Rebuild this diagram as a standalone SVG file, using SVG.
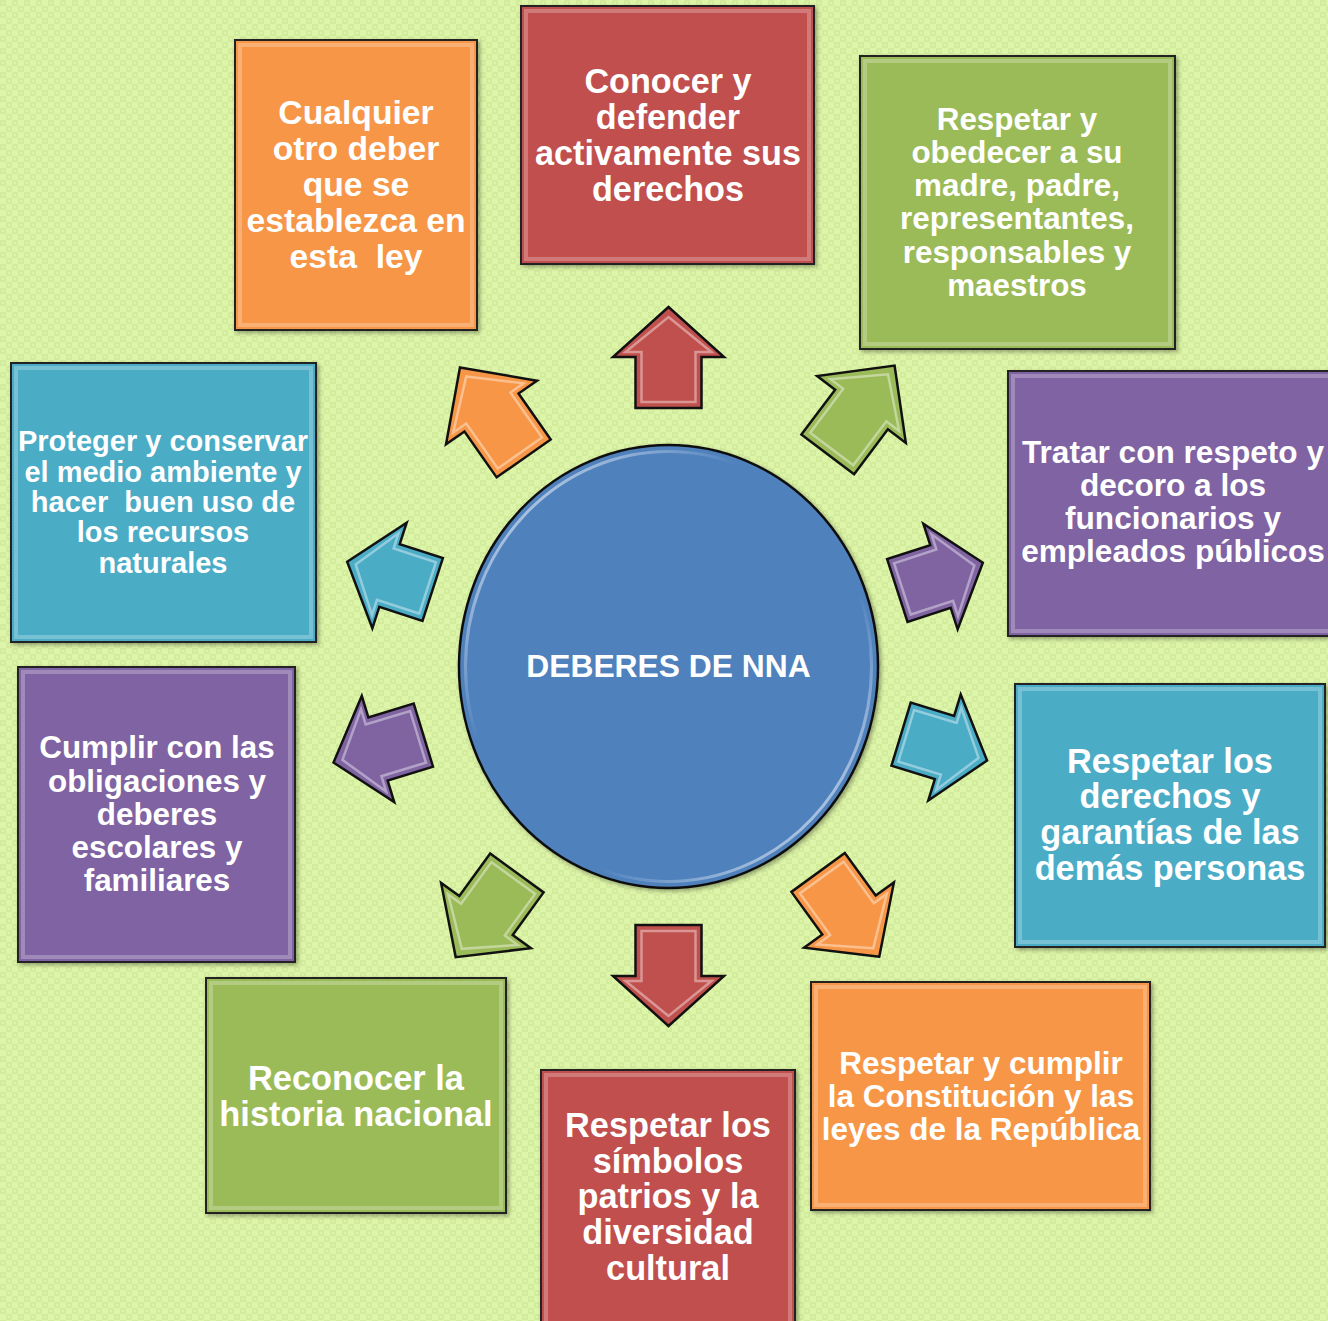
<svg xmlns="http://www.w3.org/2000/svg" xmlns:xlink="http://www.w3.org/1999/xlink" width="1328" height="1321" viewBox="0 0 1328 1321">
<style>
.box{stroke:#222;stroke-width:2}
.bev{fill:none;stroke:#ffffff;stroke-opacity:0.25;stroke-width:4}
.t{font-family:"Liberation Sans",Arial,sans-serif;font-weight:bold;fill:#ffffff;text-anchor:middle}
.red{fill:#c0504d}
.green{fill:#9bbb59}
.purple{fill:#8064a2}
.aqua{fill:#4bacc6}
.orange{fill:#f79646}
.ar{stroke:#111;stroke-width:2.5;stroke-linejoin:miter}
.hl{fill:none;stroke:#ffffff;stroke-opacity:0.4;stroke-width:2.5}
</style>
<defs>
<pattern id="bg" width="12" height="12" patternUnits="userSpaceOnUse">
<rect width="12" height="12" fill="#ddf5a8"/>
<rect x="0" y="0" width="6" height="6" fill="#d3eb9d"/>
<rect x="6" y="6" width="6" height="6" fill="#d3eb9d"/>
<rect x="2" y="2" width="2" height="2" fill="#ddf5a8"/>
<rect x="8" y="8" width="2" height="2" fill="#ddf5a8"/>
</pattern>
<filter id="sh" x="-10%" y="-10%" width="120%" height="120%">
<feDropShadow dx="2" dy="2" stdDeviation="2" flood-color="#000" flood-opacity="0.35"/>
</filter>
<path id="arr" d="M0,-50 L55.5,0 L33,0 L33,51 L-33,51 L-33,0 L-55.5,0 Z" vector-effect="non-scaling-stroke"/>
<path id="arrhl" d="M0,-40 L43,-5 L27,-5 L27,45 L-27,45 L-27,-5 L-43,-5 Z" vector-effect="non-scaling-stroke"/>
<linearGradient id="rim" x1="0" y1="0" x2="1" y2="1">
<stop offset="0" stop-color="#ffffff" stop-opacity="0.85"/>
<stop offset="0.35" stop-color="#ffffff" stop-opacity="0"/>
<stop offset="0.65" stop-color="#ffffff" stop-opacity="0"/>
<stop offset="1" stop-color="#ffffff" stop-opacity="0.85"/>
</linearGradient>
</defs>
<rect width="1328" height="1321" fill="url(#bg)"/>

<g id="connectors">
<g transform="translate(668.5,357) rotate(0)"><use href="#arr" class="ar red"/><use href="#arrhl" class="hl"/></g>
<g transform="translate(861.5,409.5) rotate(37) scale(1,1.1)"><use href="#arr" class="ar green"/><use href="#arrhl" class="hl"/></g>
<g transform="translate(940.5,576.5) rotate(72) scale(1,0.89)"><use href="#arr" class="ar purple"/><use href="#arrhl" class="hl"/></g>
<g transform="translate(944.5,747.5) rotate(107) scale(1,0.89)"><use href="#arr" class="ar aqua"/><use href="#arrhl" class="hl"/></g>
<g transform="translate(849,915) rotate(144) scale(1,1.03)"><use href="#arr" class="ar orange"/><use href="#arrhl" class="hl"/></g>
<g transform="translate(668.5,976) rotate(180)"><use href="#arr" class="ar red"/><use href="#arrhl" class="hl"/></g>
<g transform="translate(486,915.5) rotate(216) scale(1,1.03)"><use href="#arr" class="ar green"/><use href="#arrhl" class="hl"/></g>
<g transform="translate(378,749) rotate(253) scale(1,0.93)"><use href="#arr" class="ar purple"/><use href="#arrhl" class="hl"/></g>
<g transform="translate(389.5,575.5) rotate(288) scale(1,0.89)"><use href="#arr" class="ar aqua"/><use href="#arrhl" class="hl"/></g>
<g transform="translate(491.5,412.5) rotate(325) scale(1,1.1)"><use href="#arr" class="ar orange"/><use href="#arrhl" class="hl"/></g>
</g>

<g id="center">
<ellipse cx="668.5" cy="666.5" rx="209.5" ry="221.5" fill="#4f81bd" stroke="#111" stroke-width="2.5" filter="url(#sh)"/>
<ellipse cx="668.5" cy="666.5" rx="203" ry="215" fill="none" stroke="url(#rim)" stroke-width="3"/>
<text class="t" x="668.5" y="677" font-size="31.8">DEBERES DE NNA</text>
</g>

<g id="n1">
<rect class="box orange" x="235" y="40" width="242" height="290" filter="url(#sh)"/>
<rect class="bev" x="240" y="45" width="232" height="280"/>
<text class="t" font-size="33.7"><tspan x="356" y="124">Cualquier</tspan><tspan x="356" y="160">otro deber</tspan><tspan x="356" y="196">que se</tspan><tspan x="356" y="232">establezca en</tspan><tspan x="356" y="268" xml:space="preserve">esta  ley</tspan></text>
</g>

<g id="n2">
<rect class="box red" x="521" y="6" width="293" height="258" filter="url(#sh)"/>
<rect class="bev" x="526" y="11" width="283" height="248"/>
<text class="t" font-size="34.2"><tspan x="668" y="93">Conocer y</tspan><tspan x="668" y="129">defender</tspan><tspan x="668" y="165">activamente sus</tspan><tspan x="668" y="201">derechos</tspan></text>
</g>

<g id="n3">
<rect class="box green" x="860" y="56" width="315" height="293" filter="url(#sh)"/>
<rect class="bev" x="865" y="61" width="305" height="283"/>
<text class="t" font-size="31.4"><tspan x="1017" y="130">Respetar y</tspan><tspan x="1017" y="163">obedecer a su</tspan><tspan x="1017" y="196">madre, padre,</tspan><tspan x="1017" y="229">representantes,</tspan><tspan x="1017" y="263">responsables y</tspan><tspan x="1017" y="296">maestros</tspan></text>
</g>

<g id="n4">
<rect class="box purple" x="1008" y="371" width="322" height="265" filter="url(#sh)"/>
<rect class="bev" x="1013" y="376" width="320" height="255"/>
<text class="t" font-size="31.6"><tspan x="1173" y="463">Tratar con respeto y</tspan><tspan x="1173" y="496">decoro a los</tspan><tspan x="1173" y="529">funcionarios y</tspan><tspan x="1173" y="562">empleados públicos</tspan></text>
</g>

<g id="n5">
<rect class="box aqua" x="1015" y="684" width="310" height="263" filter="url(#sh)"/>
<rect class="bev" x="1020" y="689" width="300" height="253"/>
<text class="t" font-size="34.3"><tspan x="1170" y="773">Respetar los</tspan><tspan x="1170" y="808">derechos y</tspan><tspan x="1170" y="844">garantías de las</tspan><tspan x="1170" y="880">demás personas</tspan></text>
</g>

<g id="n6">
<rect class="box orange" x="811" y="982" width="339" height="228" filter="url(#sh)"/>
<rect class="bev" x="816" y="987" width="329" height="218"/>
<text class="t" font-size="31.5"><tspan x="981" y="1074">Respetar y cumplir</tspan><tspan x="981" y="1107">la Constitución y las</tspan><tspan x="981" y="1140">leyes de la República</tspan></text>
</g>

<g id="n7">
<rect class="box red" x="541" y="1070" width="254" height="260" filter="url(#sh)"/>
<rect class="bev" x="546" y="1075" width="244" height="260"/>
<text class="t" font-size="34.3"><tspan x="668" y="1137">Respetar los</tspan><tspan x="668" y="1173">símbolos</tspan><tspan x="668" y="1208">patrios y la</tspan><tspan x="668" y="1244">diversidad</tspan><tspan x="668" y="1280">cultural</tspan></text>
</g>

<g id="n8">
<rect class="box green" x="206" y="978" width="300" height="235" filter="url(#sh)"/>
<rect class="bev" x="211" y="983" width="290" height="225"/>
<text class="t" font-size="34.4"><tspan x="356" y="1090">Reconocer la</tspan><tspan x="356" y="1126">historia nacional</tspan></text>
</g>

<g id="n9">
<rect class="box purple" x="18" y="667" width="277" height="295" filter="url(#sh)"/>
<rect class="bev" x="23" y="672" width="267" height="285"/>
<text class="t" font-size="31.4"><tspan x="157" y="758">Cumplir con las</tspan><tspan x="157" y="792">obligaciones y</tspan><tspan x="157" y="825">deberes</tspan><tspan x="157" y="858">escolares y</tspan><tspan x="157" y="891">familiares</tspan></text>
</g>

<g id="n10">
<rect class="box aqua" x="11" y="363" width="305" height="279" filter="url(#sh)"/>
<rect class="bev" x="16" y="368" width="295" height="269"/>
<text class="t" font-size="29"><tspan x="163" y="451">Proteger y conservar</tspan><tspan x="163" y="482">el medio ambiente y</tspan><tspan x="163" y="512" xml:space="preserve">hacer  buen uso de</tspan><tspan x="163" y="542">los recursos</tspan><tspan x="163" y="573">naturales</tspan></text>
</g>
</svg>
